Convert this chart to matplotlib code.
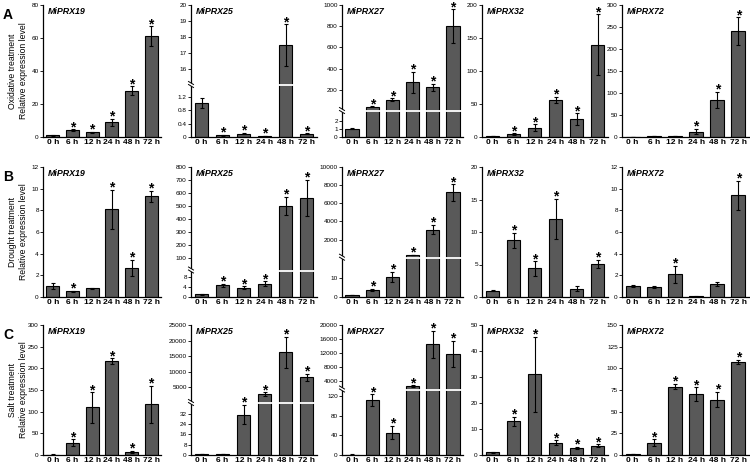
"""
Relative expression of MiPRX genes under oxidative, drought and salt treatment.
3 x 5 grid of bar charts, some with a broken y axis.
"""
import matplotlib
matplotlib.use("Agg")
import matplotlib.pyplot as plt
from matplotlib.lines import Line2D
from matplotlib.patches import Polygon
from matplotlib.transforms import offset_copy
import numpy as np

plt.rcParams["font.family"] = ["Liberation Sans", "DejaVu Sans"]

TIMES = ["0 h", "6 h", "12 h", "24 h", "48 h", "72 h"]
GENES = ["MiPRX19", "MiPRX25", "MiPRX27", "MiPRX32", "MiPRX72"]
TREATMENTS = ["Oxidative treatment", "Drought treatment", "Salt treatment"]
LETTERS = ["A", "B", "C"]

# ---- oxidative ----
ox19 = [1.0, 4.0, 2.8, 9.0, 28.0, 61.0]
ox19_sd = [0.2, 0.6, 0.5, 2.2, 2.8, 6.0]
ox19_sig = [0, 1, 1, 1, 1, 1]
ox25 = [1.0, 0.05, 0.1, 0.02, 17.5, 0.1]
ox25_sd = [0.15, 0.01, 0.02, 0.005, 1.3, 0.01]
ox25_sig = [0, 1, 1, 1, 1, 1]
ox27 = [1.0, 40.0, 105.0, 270.0, 222.0, 800.0]
ox27_sd = [0.05, 5.0, 15.0, 100.0, 35.0, 160.0]
ox27_sig = [0, 1, 1, 1, 1, 1]
ox32 = [1.0, 4.0, 14.0, 56.0, 27.0, 140.0]
ox32_sd = [0.1, 1.5, 5.0, 5.0, 9.0, 46.0]
ox32_sig = [0, 1, 1, 1, 1, 1]
ox72 = [1.0, 2.0, 2.0, 12.0, 84.0, 240.0]
ox72_sd = [0.1, 0.3, 0.3, 6.0, 18.0, 32.0]
ox72_sig = [0, 0, 0, 1, 1, 1]

# ---- drought ----
dr19 = [1.0, 0.55, 0.8, 8.1, 2.7, 9.3]
dr19_sd = [0.25, 0.05, 0.05, 1.8, 0.75, 0.5]
dr19_sig = [0, 1, 0, 1, 1, 1]
dr25 = [1.0, 4.6, 3.7, 5.3, 500.0, 560.0]
dr25_sd = [0.1, 0.6, 0.5, 0.9, 70.0, 140.0]
dr25_sig = [0, 1, 1, 1, 1, 1]
dr27 = [1.0, 3.7, 10.5, 300.0, 3100.0, 7200.0]
dr27_sd = [0.1, 0.5, 2.8, 30.0, 500.0, 900.0]
dr27_sig = [0, 1, 1, 1, 1, 1]
dr32 = [1.0, 8.7, 4.4, 12.0, 1.3, 5.1]
dr32_sd = [0.05, 1.2, 1.1, 3.1, 0.45, 0.6]
dr32_sig = [0, 1, 1, 1, 0, 1]
dr72 = [1.0, 0.9, 2.1, 0.05, 1.2, 9.4]
dr72_sd = [0.1, 0.1, 0.8, 0.02, 0.15, 1.35]
dr72_sig = [0, 0, 1, 0, 0, 1]

# ---- salt ----
sa19 = [1.0, 28.0, 110.0, 217.0, 7.0, 117.0]
sa19_sd = [0.2, 8.0, 35.0, 6.0, 2.0, 42.0]
sa19_sig = [0, 1, 1, 1, 1, 1]
sa25 = [1.0, 0.8, 31.5, 2900.0, 16300.0, 8200.0]
sa25_sd = [0.1, 0.1, 7.5, 500.0, 5000.0, 1200.0]
sa25_sig = [0, 0, 1, 1, 1, 1]
sa27 = [1.0, 112.0, 46.0, 2500.0, 14500.0, 11700.0]
sa27_sd = [0.1, 12.0, 14.0, 200.0, 3900.0, 3700.0]
sa27_sig = [0, 1, 1, 1, 1, 1]
sa32 = [1.0, 13.0, 31.0, 4.7, 2.8, 3.5]
sa32_sd = [0.1, 1.7, 14.5, 1.0, 0.4, 0.6]
sa32_sig = [0, 1, 1, 1, 1, 1]
sa72 = [1.0, 14.0, 79.0, 70.0, 64.0, 107.0]
sa72_sd = [0.1, 4.0, 3.0, 8.0, 9.0, 2.5]
sa72_sig = [0, 1, 1, 1, 1, 1]

DATA = [
    [(ox19, ox19_sd, ox19_sig), (ox25, ox25_sd, ox25_sig), (ox27, ox27_sd, ox27_sig),
     (ox32, ox32_sd, ox32_sig), (ox72, ox72_sd, ox72_sig)],
    [(dr19, dr19_sd, dr19_sig), (dr25, dr25_sd, dr25_sig), (dr27, dr27_sd, dr27_sig),
     (dr32, dr32_sd, dr32_sig), (dr72, dr72_sd, dr72_sig)],
    [(sa19, sa19_sd, sa19_sig), (sa25, sa25_sd, sa25_sig), (sa27, sa27_sd, sa27_sig),
     (sa32, sa32_sd, sa32_sig), (sa72, sa72_sd, sa72_sig)],
]

# y-axis setup: plain -> (ymax, step); broken -> (lower lim, lower ticks, upper lim, upper ticks, break px)
AXES = [
    [(80, 20),
     ((0, 1.55), [0, 0.4, 0.8, 1.2], (15, 20), [16, 17, 18, 19, 20], 85),
     ((0, 3.2), [0, 1, 2], (0, 1000), [200, 400, 600, 800, 1000], 111),
     (200, 50), (300, 50)],
    [(12, 2),
     ((0, 10.5), [0, 4, 8], (0, 800), list(range(100, 801, 100)), 270.5),
     ((0, 20.5), [0, 10], (0, 10000), list(range(2000, 10001, 2000)), 257.7),
     (20, 5), (12, 2)],
    [(300, 50),
     ((0, 40.5), [0, 8, 16, 24, 32], (0, 25000), list(range(5000, 25001, 5000)), 403),
     ((0, 134), [0, 40, 80, 120], (1500, 20000), list(range(4000, 20001, 4000)), 389.5),
     (50, 10), (150, 25)],
]

W, H = 750, 467
ROW_TOP = [5, 167, 325]
ROW_BOT = [137, 297, 455]
COL_LEFT = [43, 191, 342, 482, 622]
COL_W = [118, 126, 121, 126, 127]
BAR_COLOR = "#595959"

fig = plt.figure(figsize=(W / 100, H / 100), dpi=100)


def rect(left, top, bottom, width):
    return [left / W, 1 - bottom / H, width / W, (bottom - top) / H]


def style(ax, lw=0.9):
    for s in ["top", "right"]:
        ax.spines[s].set_visible(False)
    for s in ["left", "bottom"]:
        ax.spines[s].set_linewidth(lw)
    ax.tick_params(axis="y", length=2, width=0.6, labelsize=4.6, pad=1)
    ax.tick_params(axis="x", length=0, pad=1.8)
    ax.set_xlim(-0.5, 5.5)


def bars(ax, mean, sd, keep=None):
    x = np.arange(len(mean))
    m = np.asarray(mean, float)
    e = np.asarray(sd, float)
    if keep is not None:
        x, m, e = x[keep], m[keep], e[keep]
    if len(x) == 0:
        return
    ax.bar(x, m, width=0.66, color=BAR_COLOR, edgecolor="black", linewidth=0.8, zorder=2)
    ax.errorbar(x, m, yerr=e, fmt="none", ecolor="black", elinewidth=0.8,
                capsize=1.6, capthick=0.8, zorder=3)


def stars(axes_lims, mean, sd, sig):
    # drawn on the figure so they sit above the white break line
    for i, s in enumerate(sig):
        if not s:
            continue
        y = mean[i] + sd[i]
        for ax, (lo, hi) in axes_lims:
            if lo <= y <= hi:
                tr = offset_copy(ax.transData, fig=fig, x=0, y=-1.3, units="points")
                fig.text(i, y, "*", transform=tr, ha="center", va="baseline",
                         fontsize=10, fontweight="bold", zorder=20)
                break


def fmt(v):
    return f"{v:g}"


for r in range(3):
    top, bot = ROW_TOP[r], ROW_BOT[r]
    for c in range(5):
        mean, sd, sig = DATA[r][c]
        spec = AXES[r][c]
        left, width = COL_LEFT[c], COL_W[c]
        if len(spec) == 2:
            ymax, step = spec
            ax = fig.add_axes(rect(left, top, bot, width))
            style(ax)
            bars(ax, mean, sd)
            ax.set_ylim(0, ymax)
            ticks = np.arange(0, ymax + step / 2, step)
            ax.set_yticks(ticks)
            ax.set_yticklabels([fmt(t) for t in ticks])
            stars([(ax, (0, ymax))], mean, sd, sig)
            low = ax
        else:
            lo_lim, lo_ticks, up_lim, up_ticks, brk = spec
            low = fig.add_axes(rect(left, brk, bot, width))
            up = fig.add_axes(rect(left, top, brk, width))
            style(low)
            style(up)
            up.spines["bottom"].set_visible(False)
            up.set_xticks([])
            big = np.asarray(mean) > lo_lim[1]
            bars(low, mean, sd)
            bars(up, mean, sd, keep=big)
            for a, lim, tk in [(low, lo_lim, lo_ticks), (up, up_lim, up_ticks)]:
                a.set_ylim(*lim)
                a.set_yticks(tk)
                a.set_yticklabels([fmt(t) for t in tk])
            stars([(low, lo_lim), (up, up_lim)], mean, sd, sig)
            # white gap across the bars
            fig.add_artist(Line2D([(left + 1.5) / W, (left + width) / W],
                                  [1 - brk / H, 1 - brk / H], color="white", lw=1.3, zorder=10))
            # break mark on the y spine
            xs = left
            pts = [(xs - 2.5, brk - 3.5), (xs + 2.5, brk - 0.5), (xs + 2.5, brk + 2.5), (xs - 2.5, brk - 0.5)]
            fig.add_artist(Polygon([(px / W, 1 - py / H) for px, py in pts], closed=True,
                                   facecolor="white", edgecolor="none", zorder=11))
            for dy in (-3.5, -0.5):
                fig.add_artist(Line2D([(xs - 2.5) / W, (xs + 2.5) / W],
                                      [1 - (brk + dy) / H, 1 - (brk + dy + 3) / H],
                                      color="black", lw=0.7, zorder=12))
        low.set_xticks(range(len(TIMES)))
        low.set_xticklabels(TIMES, fontsize=6.0, fontweight="bold")
        fig.text((left + 5) / W, 1 - (top + 2) / H, GENES[c], fontsize=6.4,
                 fontstyle="italic", fontweight="bold", ha="left", va="top")

    fig.text(18 / W, 1 - (top + bot) / 2 / H, TREATMENTS[r] + "\nRelative expression level",
             rotation=90, ha="center", va="center", fontsize=6.2, linespacing=1.2)
    fig.text(3 / W, 1 - (top + 3) / H, LETTERS[r], fontsize=10, fontweight="bold",
             ha="left", va="top")

fig.savefig("out.png", dpi=100)
